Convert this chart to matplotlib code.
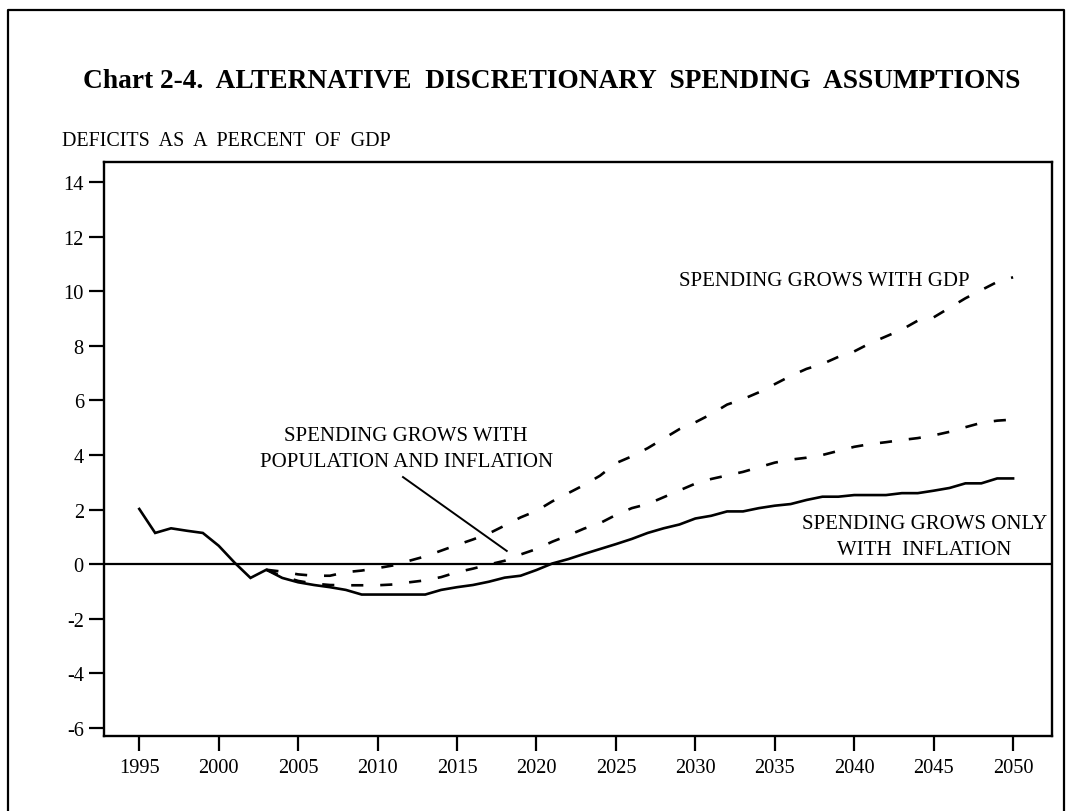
import matplotlib
matplotlib.use("Agg")
import matplotlib.pyplot as plt
from matplotlib.lines import Line2D

plt.rcParams['font.family'] = ['Liberation Serif', 'DejaVu Serif']

years = list(range(1995, 2051))

inflation_only = [2.02, 1.14, 1.31, 1.22, 1.14, 0.67, 0.05, -0.51, -0.21, -0.51,
                  -0.67, -0.77, -0.85, -0.95, -1.12, -1.12, -1.12, -1.12, -1.12, -0.95,
                  -0.85, -0.77, -0.65, -0.50, -0.43, -0.22, 0.02, 0.18, 0.37, 0.55,
                  0.73, 0.92, 1.14, 1.31, 1.45, 1.67, 1.77, 1.93, 1.93, 2.05,
                  2.14, 2.20, 2.35, 2.47, 2.47, 2.53, 2.53, 2.53, 2.60, 2.60,
                  2.69, 2.79, 2.96, 2.96, 3.14, 3.14]

dash_years = list(range(2003, 2051))

pop_inflation = [-0.21, -0.45, -0.62, -0.72, -0.77, -0.78, -0.78, -0.78, -0.75, -0.67,
                 -0.60, -0.48, -0.30, -0.17, -0.02, 0.12, 0.35, 0.55, 0.82, 1.05,
                 1.30, 1.50, 1.80, 2.05, 2.20, 2.45, 2.70, 2.95, 3.12, 3.25,
                 3.38, 3.55, 3.72, 3.83, 3.90, 4.00, 4.15, 4.30, 4.40, 4.47,
                 4.55, 4.62, 4.72, 4.85, 5.02, 5.18, 5.26, 5.30]

grows_gdp = [-0.21, -0.28, -0.38, -0.43, -0.43, -0.30, -0.24, -0.15, -0.05, 0.12,
             0.28, 0.49, 0.70, 0.90, 1.12, 1.41, 1.71, 1.95, 2.30, 2.60,
             2.90, 3.24, 3.70, 3.95, 4.25, 4.60, 4.95, 5.20, 5.50, 5.85,
             6.05, 6.30, 6.60, 6.90, 7.16, 7.34, 7.60, 7.80, 8.10, 8.35,
             8.60, 8.93, 9.05, 9.40, 9.75, 10.05, 10.35, 10.52]

xticks = list(range(1995, 2051, 5))
yticks = [-6, -4, -2, 0, 2, 4, 6, 8, 10, 12, 14]

W, H = 1067, 812
fig = plt.figure(figsize=(W / 100, H / 100), dpi=100)
ax = fig.add_axes([104 / W, 1 - 737 / H, (1052 - 104) / W, (737 - 163) / H])

lw = 1.9
ax.plot(years, inflation_only, color='black', lw=lw, solid_joinstyle='miter')
l1, = ax.plot(dash_years, pop_inflation, color='black', lw=lw)
l1.set_dashes((4.6, 6.4))
l2, = ax.plot(dash_years, grows_gdp, color='black', lw=lw)
l2.set_dashes((4.6, 6.4))
ax.axhline(0, color='black', lw=1.6)

ax.set_xlim(1992.78, 2052.45)
ax.set_ylim(-6.31, 14.75)
ax.set_xticks(xticks)
ax.set_yticks(yticks)
ax.set_xticklabels([str(x) for x in xticks])
ax.set_yticklabels([str(y) for y in yticks])
ax.tick_params(axis='both', direction='out', length=10.5, width=1.6, labelsize=14.7,
               colors='black')
ax.tick_params(axis='y', pad=4)
ax.tick_params(axis='x', pad=5)
for s in ax.spines.values():
    s.set_linewidth(1.7)

fs = 15
ax.text(2028.98, 10.42, 'SPENDING GROWS WITH GDP', fontsize=fs, ha='left', va='center')
ax.text(2011.8, 4.24, 'SPENDING GROWS WITH\nPOPULATION AND INFLATION', fontsize=fs,
        ha='center', va='center', multialignment='center', linespacing=1.5)
ax.plot([2011.6, 2018.13], [3.19, 0.48], color='black', lw=1.4)
ax.text(2052.14, 1.01, 'SPENDING GROWS ONLY\nWITH  INFLATION', fontsize=fs,
        ha='right', va='center', multialignment='center', linespacing=1.5)

fig.text(552 / W, 1 - 82 / H,
         'Chart 2-4.  ALTERNATIVE  DISCRETIONARY  SPENDING  ASSUMPTIONS',
         fontsize=19.7, fontweight='bold', ha='center', va='center')
fig.text(62 / W, 1 - 141 / H, 'DEFICITS  AS  A  PERCENT  OF  GDP', fontsize=14.4,
         ha='left', va='center')

# frame around the figure (bottom edge is cut off in the original)
xl, xr, yt = 8 / W, 1064 / W, 1 - 11 / H
fig.add_artist(Line2D([xl, xl, xr, xr], [0, yt, yt, 0], color='black', lw=1.6,
                      transform=fig.transFigure))

fig.savefig('out.png', dpi=100)
